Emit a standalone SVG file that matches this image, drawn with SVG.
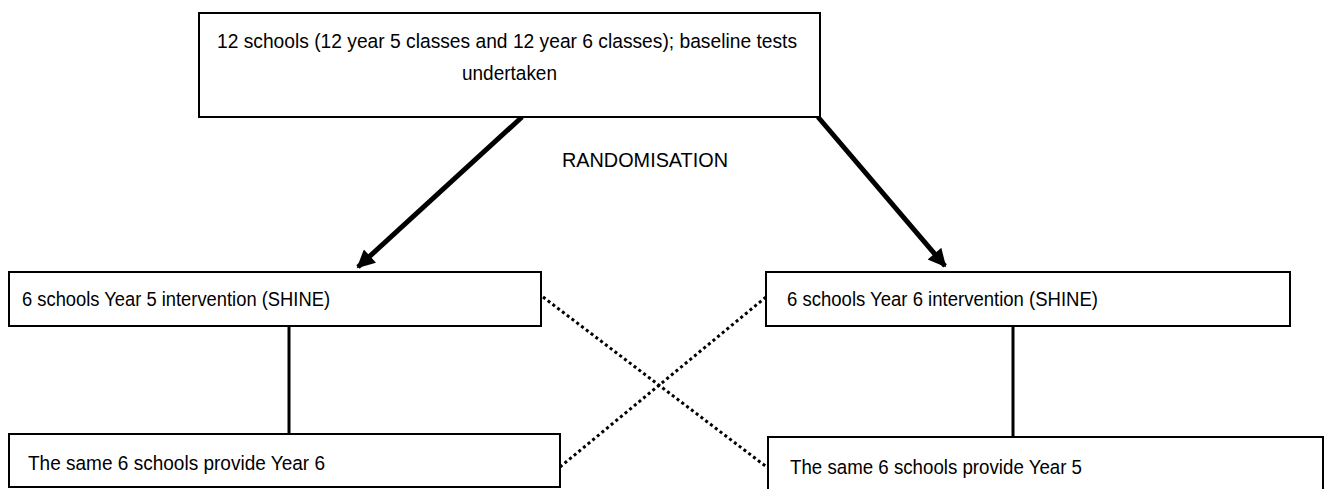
<svg xmlns="http://www.w3.org/2000/svg" width="1324" height="489" viewBox="0 0 1324 489">
<style>
.box{fill:#fff;stroke:#000;stroke-width:2}
.t{font-family:"Liberation Sans",Arial,sans-serif;font-size:20.5px;fill:#000}
.thick{stroke:#000;stroke-width:5;fill:none}
.solid{stroke:#000;stroke-width:3;fill:none}
.dot{stroke:#000;stroke-width:3;fill:none;stroke-dasharray:3 3}
</style>
<defs>
<marker id="ah" viewBox="0 0 10 10" refX="9" refY="5" markerWidth="4.2" markerHeight="3.6" orient="auto" markerUnits="strokeWidth">
<path d="M0,0 L10,5 L0,10 z" fill="#000"/>
</marker>
</defs>
<rect width="1324" height="489" fill="#fff"/>
<g id="connectors">
<line class="thick" x1="522" y1="117" x2="358" y2="267" marker-end="url(#ah)"/>
<line class="thick" x1="818" y1="117" x2="945" y2="266" marker-end="url(#ah)"/>
<line class="solid" x1="289" y1="327" x2="289" y2="434"/>
<line class="solid" x1="1013" y1="327" x2="1013" y2="437"/>
<line class="dot" x1="543" y1="297" x2="768" y2="468"/>
<line class="dot" x1="560" y1="467" x2="766" y2="297"/>
</g>
<g id="top">
<rect class="box" x="199" y="13" width="621" height="104"/>
<text class="t" x="217" y="48" textLength="580" lengthAdjust="spacingAndGlyphs">12 schools (12 year 5 classes and 12 year 6 classes); baseline tests</text>
<text class="t" x="462" y="80" textLength="95" lengthAdjust="spacingAndGlyphs">undertaken</text>
</g>
<g id="randomisation">
<text class="t" x="562" y="167" textLength="166" lengthAdjust="spacingAndGlyphs">RANDOMISATION</text>
</g>
<g id="left1">
<rect class="box" x="9" y="272" width="532" height="54"/>
<text class="t" x="22" y="306" textLength="308" lengthAdjust="spacingAndGlyphs">6 schools Year 5 intervention (SHINE)</text>
</g>
<g id="right1">
<rect class="box" x="766" y="272" width="524" height="54"/>
<text class="t" x="787" y="306" textLength="311" lengthAdjust="spacingAndGlyphs">6 schools Year 6 intervention (SHINE)</text>
</g>
<g id="left2">
<rect class="box" x="9" y="434" width="551" height="53"/>
<text class="t" x="28" y="470" textLength="297" lengthAdjust="spacingAndGlyphs">The same 6 schools provide Year 6</text>
</g>
<g id="right2">
<rect class="box" x="768" y="437" width="555" height="60"/>
<text class="t" x="790" y="474" textLength="292" lengthAdjust="spacingAndGlyphs">The same 6 schools provide Year 5</text>
</g>
</svg>
